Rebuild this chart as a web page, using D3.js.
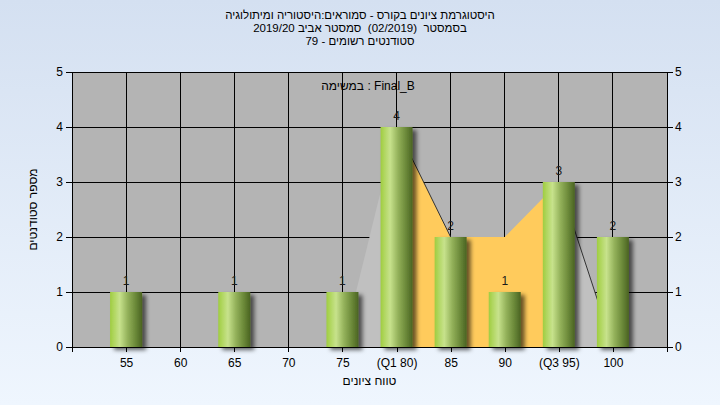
<!DOCTYPE html>
<html><head><meta charset="utf-8">
<script src="https://cdn.jsdelivr.net/npm/d3@7"></script>
<style>body{margin:0;overflow:hidden} svg{display:block}</style>
</head><body><svg id="c" width="720" height="405"></svg>
<script>
const titleLines = [
  "היסטוגרמת ציונים בקורס - סמוראים:היסטוריה ומיתולוגיה",
  "בסמסטר  (02/2019)  סמסטר אביב 2019/20",
  "סטודנטים רשומים - 79"
];
const taskLabel = "במשימה : Final_B";
const yTitle = "מספר סטודנטים";
const xTitle = "טווח ציונים";
const categories = [55, 60, 65, 70, 75, 80, 85, 90, 95, 100];
const tickLabels = ["55", "60", "65", "70", "75", "(Q1 80)", "85", "90", "(Q3 95)", "100"];
const counts = [1, 0, 1, 0, 1, 4, 2, 1, 3, 2];
const curveX = [75, 80, 85, 90, 95, 100];
const curveY = [0, 4, 2, 2, 3, 0];
const q1 = 80, q3 = 95;
const yTicks = [0, 1, 2, 3, 4, 5];

const svg = d3.select("#c");
const W = 720, H = 405;
const L = 72, R = 667, T = 72, B = 347;
const font = "'Liberation Sans', Arial, sans-serif";

const defs = svg.append("defs");
const bg = defs.append("linearGradient").attr("id", "bg").attr("x1", 0).attr("y1", 0).attr("x2", 0).attr("y2", 1);
bg.append("stop").attr("offset", "0%").attr("stop-color", "#d4e0f1");
bg.append("stop").attr("offset", "100%").attr("stop-color", "#eff6fe");
const bar = defs.append("linearGradient").attr("id", "bar").attr("x1", 0).attr("y1", 0).attr("x2", 1).attr("y2", 0);
[["0%", "#9fcd40"], ["12%", "#b0d65f"], ["30%", "#c7e28c"], ["55%", "#93b15a"], ["80%", "#6a8838"], ["100%", "#4a6322"]]
  .forEach(([o, c]) => bar.append("stop").attr("offset", o).attr("stop-color", c));
const f = defs.append("filter").attr("id", "sh").attr("x", "-20%").attr("y", "-10%").attr("width", "160%").attr("height", "130%");
f.append("feDropShadow").attr("dx", 4).attr("dy", 3).attr("stdDeviation", 2).attr("flood-color", "#000").attr("flood-opacity", 0.6);

svg.append("rect").attr("width", W).attr("height", H).attr("fill", "url(#bg)");

const x = d3.scaleLinear().domain([50, 105]).range([L, R]);
const y = d3.scaleLinear().domain([0, 5]).range([B, T]);

svg.append("rect").attr("x", L).attr("y", T).attr("width", R - L).attr("height", B - T).attr("fill", "#b4b4b4");

// grid
const g = svg.append("g").attr("stroke", "#000").attr("stroke-width", 1).attr("shape-rendering", "crispEdges");
categories.forEach(c => g.append("line").attr("x1", x(c)).attr("x2", x(c)).attr("y1", T).attr("y2", B));
yTicks.forEach(t => g.append("line").attr("x1", L).attr("x2", R).attr("y1", y(t)).attr("y2", y(t)));

// areas
const pts = curveX.map((v, i) => [v, curveY[i]]);
const area = d3.area().x(d => x(d[0])).y0(y(0)).y1(d => y(d[1]));
const seg = (a, b) => pts.filter(d => d[0] >= a && d[0] <= b);
svg.append("path").attr("d", area(seg(curveX[0], q1))).attr("fill", "#c0c0c0");
svg.append("path").attr("d", area(seg(q3, curveX[curveX.length - 1]))).attr("fill", "#c0c0c0");
svg.append("path").attr("d", area(seg(q1, q3))).attr("fill", "#ffcb5c");
for (let i = 0; i < pts.length - 1; i++) {
  if (pts[i + 1][1] < pts[i][1]) {
    svg.append("line").attr("x1", x(pts[i][0])).attr("y1", y(pts[i][1]))
      .attr("x2", x(pts[i + 1][0])).attr("y2", y(pts[i + 1][1]))
      .attr("stroke", "#333").attr("stroke-width", 1);
  }
}

// bars
const bw = 32;
svg.append("g").selectAll("rect").data(categories.map((c, i) => ({ c, v: counts[i] })).filter(d => d.v > 0))
  .join("rect")
  .attr("x", d => x(d.c) - bw / 2).attr("width", bw)
  .attr("y", d => y(d.v)).attr("height", d => y(0) - y(d.v))
  .attr("fill", "url(#bar)").attr("filter", "url(#sh)");

svg.append("g").selectAll("text").data(categories.map((c, i) => ({ c, v: counts[i] })).filter(d => d.v > 0))
  .join("text")
  .attr("x", d => x(d.c)).attr("y", d => y(d.v) - 7)
  .attr("text-anchor", "middle").attr("font-family", font).attr("font-size", 12).attr("fill", "#1a1a1a")
  .text(d => d.v);

// axes
const xa = d3.axisBottom(x).tickValues([50].concat(categories, [105])).tickSize(5)
  .tickFormat(d => { const i = categories.indexOf(d); return i >= 0 ? tickLabels[i] : ""; });
const gx = svg.append("g").attr("transform", `translate(0,${B})`).call(xa);
const yl = svg.append("g").attr("transform", `translate(${L},0)`).call(d3.axisLeft(y).tickValues(yTicks).tickSize(6).tickFormat(d3.format("d")));
const yr = svg.append("g").attr("transform", `translate(${R},0)`).call(d3.axisRight(y).tickValues(yTicks).tickSize(6).tickFormat(d3.format("d")));
[gx, yl, yr].forEach(a => {
  a.selectAll("path,line").attr("stroke", "#000").attr("shape-rendering", "crispEdges");
  a.selectAll("text").attr("font-family", font).attr("font-size", 12).attr("fill", "#000");
});
gx.select(".domain").remove();
svg.append("line").attr("x1", L).attr("x2", R).attr("y1", B).attr("y2", B).attr("stroke", "#000").attr("shape-rendering", "crispEdges");
gx.selectAll("text").attr("dy", "1.0em");
yl.selectAll("text").attr("x", -9);
yr.selectAll("text").attr("x", 8);

// titles
titleLines.forEach((t, i) => {
  svg.append("text").attr("x", 360).attr("y", 19 + i * 13).attr("text-anchor", "middle")
    .attr("direction", "rtl").style("direction", "rtl").style("white-space", "pre")
    .attr("font-family", font).attr("font-size", 11.5).attr("fill", "#000").text(t);
});
svg.append("text").attr("x", 368).attr("y", 90).attr("text-anchor", "middle")
  .attr("font-family", font).attr("font-size", 12).attr("fill", "#000").text(taskLabel);
svg.append("text").attr("x", (L + R) / 2).attr("y", 385).attr("text-anchor", "middle")
  .attr("direction", "rtl").style("direction", "rtl")
  .attr("font-family", font).attr("font-size", 12).attr("fill", "#000").text(xTitle);
svg.append("text").attr("transform", `translate(37,${(T + B) / 2}) rotate(-90)`).attr("text-anchor", "middle")
  .attr("direction", "rtl").style("direction", "rtl")
  .attr("font-family", font).attr("font-size", 12).attr("fill", "#000").text(yTitle);
</script>
</body></html>
